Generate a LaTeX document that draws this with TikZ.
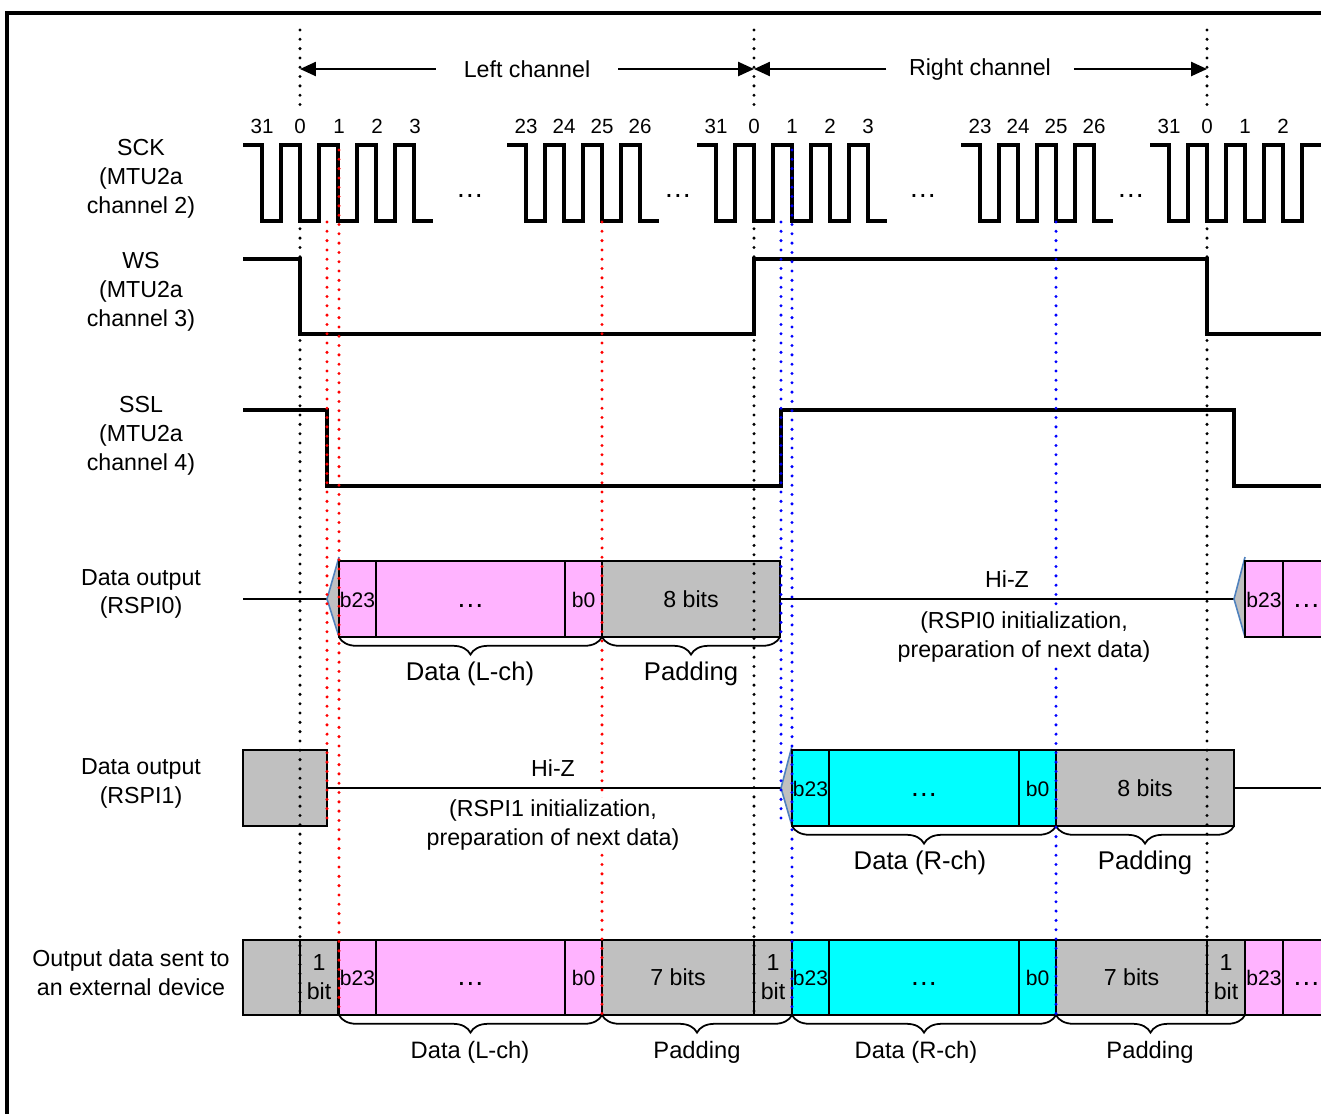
\documentclass[tikz,border=0pt]{standalone}
\usepackage{fontspec}
\setmainfont{Liberation Sans}
\usetikzlibrary{arrows.meta,decorations.pathreplacing}

\definecolor{lpink}{RGB}{255,179,255}
\definecolor{rcyan}{RGB}{0,255,255}
\definecolor{padgray}{RGB}{192,192,192}
\definecolor{edgeblue}{RGB}{79,129,189}

\begin{document}
\begin{tikzpicture}[x=0.02cm, y=-0.02cm,
  wave/.style={line width=1.9pt},
  hiz/.style={line width=0.9pt},
  cell/.style={draw, line width=1.2pt},
  guide/.style={line width=1.9pt, line cap=round, dash pattern=on 0pt off 5.3pt},
  tri/.style={draw=edgeblue, fill=padgray, line width=0.9pt},
  lbl/.style={font=\fontsize{13.2}{16.4}\selectfont, align=center},
  note/.style={lbl, fill=white, inner sep=1pt},
  num/.style={font=\fontsize{11.7}{14}\selectfont},
  bitlbl/.style={font=\fontsize{12}{14}\selectfont, anchor=base},
  padlbl/.style={font=\fontsize{13.2}{16.4}\selectfont, anchor=base},
  dotlbl/.style={font=\fontsize{16}{18}\selectfont, anchor=base},
  big/.style={font=\fontsize{14.6}{17}\selectfont},
  mid/.style={font=\fontsize{13.5}{16.4}\selectfont},
  brc/.style={decorate, decoration={brace, mirror, amplitude=10pt}, line width=1pt},
  arr/.style={-{Triangle[length=9pt,width=8pt]}, line width=1pt}]
  \useasboundingbox (0,0) rectangle (1321,1113);

  % frame
  \draw[line width=1.8pt] (7,1120) -- (7,13) -- (1330,13);

  % channel arrows
  \coordinate (l0) at (300,30);
  \coordinate (r0) at (754,30);
  \coordinate (n0) at (1207,30);
  \node[lbl, inner xsep=0.55cm] (lch) at (527,69) {Left channel};
  \node[lbl, inner xsep=0.45cm] (rch) at (980,69) {Right channel};
  \draw[arr] (lch) -- (lch -| l0);
  \draw[arr] (lch) -- (lch -| r0);
  \draw[arr] (rch) -- (rch -| r0);
  \draw[arr] (rch) -- (rch -| n0);

  % signal names
  \node[lbl] (sck) at (141,179) {SCK\\(MTU2a\\channel 2)};
  \node[lbl] (ws) at (141,292) {WS\\(MTU2a\\channel 3)};
  \node[lbl] (ssl) at (141,436) {SSL\\(MTU2a\\channel 4)};
  \node[lbl] (rspi0) at (141,594) {Data output\\(RSPI0)};
  \node[lbl] (rspi1) at (141,783) {Data output\\(RSPI1)};
  \node[lbl] (ext) at (131,973) {Output data sent to\\an external device};

  % SCK
  \foreach \s/\n in {243/5, 507/4, 697/5, 961/4}
    \draw[wave] (\s,145) -- ++(19,0)
      \foreach \k in {2,...,\n} { -- ++(0,76) -- ++(19,0) -- ++(0,-76) -- ++(19,0) }
      -- ++(0,76) -- ++(19,0);
  \draw[wave] (1150,145) -- ++(19,0)
    \foreach \k in {1,...,4} { -- ++(0,76) -- ++(19,0) -- ++(0,-76) -- ++(19,0) };

  \foreach \x/\t [count=\i] in {262/31, 300/0, 339/1, 377/2, 415/3,
      526/23, 564/24, 602/25, 640/26, 716/31, 754/0, 792/1, 830/2, 868/3,
      980/23, 1018/24, 1056/25, 1094/26, 1169/31, 1207/0, 1245/1, 1283/2}
    \node[num] (ck\i) at (\x,126) {\t};

  \foreach \x [count=\i] in {470,678,923,1131}
    \node[dotlbl] (gap\i) at (\x,197) {\ldots};

  % WS and SSL
  \draw[wave] (243,259) -- (300,259) -- (300,334) -- (754,334) -- (754,259)
    -- (1207,259) -- (1207,334) -- (1330,334);
  \draw[wave] (243,410) -- (327,410) -- (327,486) -- (781,486) -- (781,410)
    -- (1234,410) -- (1234,486) -- (1330,486);

  % RSPI0
  \draw[hiz] (243,599) -- (327,599);
  \draw[hiz] (780,599) -- (1234,599);
  \filldraw[tri] (339,557) -- (327,599) -- (339,637);
  \filldraw[tri] (1245,557) -- (1234,599) -- (1245,637);
  \foreach \a/\b/\c/\s/\t [count=\i] in {339/376/lpink/bitlbl/b23,
      376/565/lpink/dotlbl/\ldots, 565/602/lpink/bitlbl/b0,
      602/780/padgray/padlbl/8 bits, 1245/1283/lpink/bitlbl/b23,
      1283/1330/lpink/dotlbl/\ldots} {
    \draw[cell, fill=\c] (\a,561) rectangle (\b,637);
    \node[\s] (za\i) at ({(\a+\b)/2},607) {\t};
  }
  \draw[brc] (339,637) -- (602,637);
  \draw[brc] (602,637) -- (780,637);
  \node[big] (ldat0) at (470,674) {Data (L-ch)};
  \node[big] (lpad0) at (691,674) {Padding};

  % RSPI1
  \draw[cell, fill=padgray] (243,750) rectangle (327,826);
  \draw[hiz] (327,788) -- (781,788);
  \draw[hiz] (1234,788) -- (1330,788);
  \filldraw[tri] (792,746) -- (781,788) -- (792,826);
  \foreach \a/\b/\c/\s/\t [count=\i] in {792/829/rcyan/bitlbl/b23,
      829/1019/rcyan/dotlbl/\ldots, 1019/1056/rcyan/bitlbl/b0,
      1056/1234/padgray/padlbl/8 bits} {
    \draw[cell, fill=\c] (\a,750) rectangle (\b,826);
    \node[\s] (zb\i) at ({(\a+\b)/2},796) {\t};
  }
  \draw[brc] (792,826) -- (1056,826);
  \draw[brc] (1056,826) -- (1234,826);
  \node[big] (rdat1) at (920,863) {Data (R-ch)};
  \node[big] (rpad1) at (1145,863) {Padding};

  % output to external device
  \foreach \a/\b/\c/\s/\t [count=\i] in {243/300/padgray/padlbl/{},
      339/376/lpink/bitlbl/b23, 376/565/lpink/dotlbl/\ldots,
      565/602/lpink/bitlbl/b0, 602/754/padgray/padlbl/7 bits,
      792/829/rcyan/bitlbl/b23, 829/1019/rcyan/dotlbl/\ldots,
      1019/1056/rcyan/bitlbl/b0, 1056/1207/padgray/padlbl/7 bits,
      1245/1283/lpink/bitlbl/b23, 1283/1330/lpink/dotlbl/\ldots} {
    \draw[cell, fill=\c] (\a,940) rectangle (\b,1015);
    \node[\s] (zc\i) at ({(\a+\b)/2},985) {\t};
  }
  \foreach \a [count=\i] in {300,754,1207} {
    \draw[cell, fill=padgray] (\a,940) rectangle (\a+38,1015);
    \node[lbl] (one\i) at (\a+19,977) {1\\bit};
  }
  \draw[brc] (339,1015) -- (602,1015);
  \draw[brc] (602,1015) -- (792,1015);
  \draw[brc] (792,1015) -- (1056,1015);
  \draw[brc] (1056,1015) -- (1245,1015);
  \node[mid] (odat0) at (470,1052) {Data (L-ch)};
  \node[mid] (opad0) at (697,1052) {Padding};
  \node[mid] (odat1) at (916,1052) {Data (R-ch)};
  \node[mid] (opad1) at (1150,1052) {Padding};

  % timing guides
  \foreach \x in {300,754,1207} {
    \draw[guide] (\x,30) -- (\x,112);
    \draw[guide] (\x,145) -- (\x,1015);
  }
  \draw[guide, red] (327,222) -- (327,826);
  \draw[guide, red] (339,150) -- (339,1015);
  \draw[guide, red] (602,222) -- (602,1015);
  \draw[guide, blue] (781,222) -- (781,826);
  \draw[guide, blue] (792,150) -- (792,1015);
  \draw[guide, blue] (1056,222) -- (1056,1015);

  % Hi-Z notes
  \node[lbl] (hiz0) at (1007,579) {Hi-Z};
  \node[note] (init0) at (1024,637) {(RSPI0 initialization,\\preparation of next data)};
  \node[lbl] (hiz1) at (553,768) {Hi-Z};
  \node[note] (init1) at (553,825) {(RSPI1 initialization,\\preparation of next data)};
\end{tikzpicture}
\end{document}
